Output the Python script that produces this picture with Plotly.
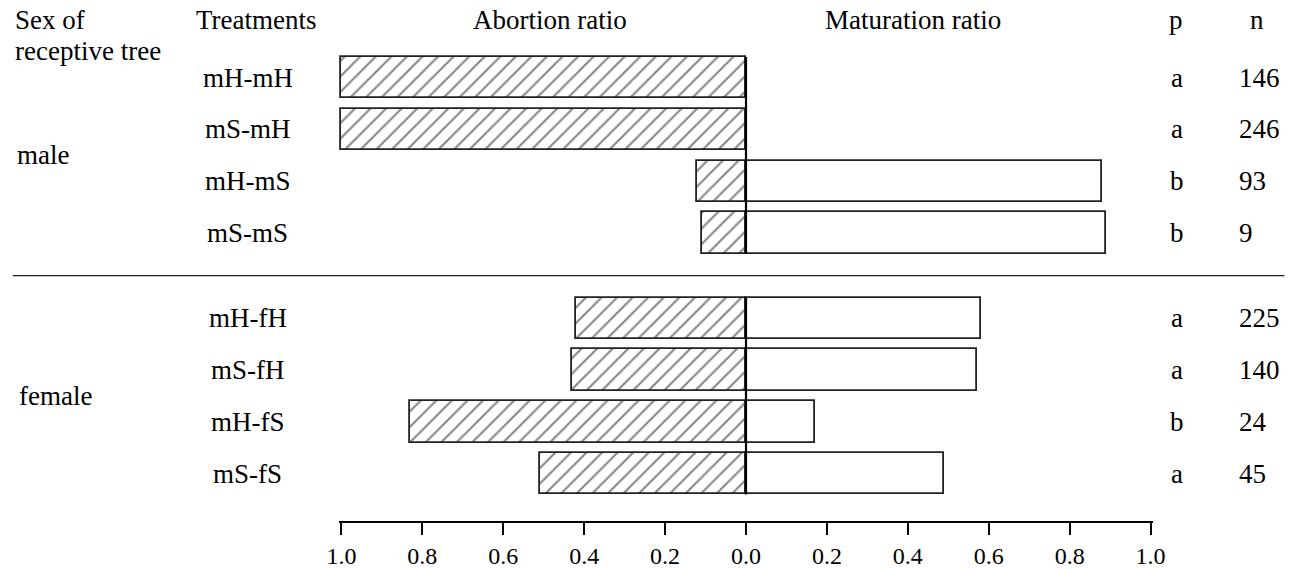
import plotly.graph_objects as go

# Fruit fate after cross-pollination, by sex of the receptive tree
sexes = ["male", "female"]
treatments_male = ["mH-mH", "mS-mH", "mH-mS", "mS-mS"]
treatments_female = ["mH-fH", "mS-fH", "mH-fS", "mS-fS"]
abortion_male = [1.0, 1.0, 0.12, 0.11]
maturation_male = [0.0, 0.0, 0.88, 0.89]
abortion_female = [0.42, 0.43, 0.83, 0.51]
maturation_female = [0.58, 0.57, 0.17, 0.49]
p_male = ["a", "a", "b", "b"]
p_female = ["a", "a", "b", "a"]
n_male = [146, 246, 93, 9]
n_female = [225, 140, 24, 45]
tick_values = [-1.0, -0.8, -0.6, -0.4, -0.2, 0.0, 0.2, 0.4, 0.6, 0.8, 1.0]

FONT = "Liberation Serif"
W, H = 1297, 569
PX_PER_UNIT = 405
X_PAD = 0.006           # small room so outer bar outlines are not clipped
ML = 341 - X_PAD * PX_PER_UNIT
MR = 146 - X_PAD * PX_PER_UNIT
MT, MB = 0, 39
ROW_PX = 52.67          # vertical distance between rows
GROUP_GAP = 1.65        # distance between last male row and first female row
BAR_W = 0.8

# row positions (in row units), male group on top
pos_male = [float(i) for i in range(len(treatments_male))]
pos_female = [pos_male[-1] + GROUP_GAP + i for i in range(len(treatments_female))]

treatments = treatments_male + treatments_female
abortion = abortion_male + abortion_female
maturation = maturation_male + maturation_female
p_vals = p_male + p_female
n_vals = n_male + n_female
ypos = pos_male + pos_female

plot_h = H - MT - MB
y_top = -1.5
y_bottom = y_top + plot_h / ROW_PX


def px_to_y(py):
    return y_top + (py - MT) / ROW_PX


def px_to_paper_x(px):
    return (px - ML) / (W - ML - MR)


fig = go.Figure()

fig.add_trace(go.Bar(
    y=ypos, x=[-a for a in abortion], orientation="h", width=BAR_W,
    marker=dict(
        color="white",
        line=dict(color="#222222", width=1.8),
        pattern=dict(shape="/", size=11, solidity=0.2,
                     fgcolor="#111111", bgcolor="white"),
    ),
    name="Abortion ratio", showlegend=False,
))
fig.add_trace(go.Bar(
    y=ypos, x=maturation, orientation="h", width=BAR_W,
    marker=dict(color="white", line=dict(color="#222222", width=1.8)),
    name="Maturation ratio", showlegend=False,
))

shapes = []
# zero line drawn per group
for grp in (pos_male, pos_female):
    shapes.append(dict(type="line", xref="x", yref="y", x0=0, x1=0,
                       y0=grp[0] - BAR_W / 2, y1=grp[-1] + BAR_W / 2,
                       line=dict(color="black", width=2.2)))
# separator between the sexes
sep_y = (pos_male[-1] + BAR_W / 2 + pos_female[0] - BAR_W / 2) / 2
shapes.append(dict(type="line", xref="paper", yref="y",
                   x0=px_to_paper_x(12), x1=px_to_paper_x(1285),
                   y0=sep_y, y1=sep_y, line=dict(color="#222222", width=1.2)))

ann = []
fs = 27


def text(x_px, y, s, anchor="center"):
    ann.append(dict(x=px_to_paper_x(x_px), y=y, xref="paper", yref="y",
                    text=s, showarrow=False, xanchor=anchor, yanchor="middle",
                    font=dict(family=FONT, size=fs, color="black")))


# headers
text(12, px_to_y(20), "Sex of", "left")
text(12, px_to_y(52), "receptive tree", "left")
text(256, px_to_y(20), "Treatments")
text(550, px_to_y(20), "Abortion ratio")
text(913, px_to_y(20), "Maturation ratio")
text(1176, px_to_y(20), "p")
text(1258, px_to_y(20), "n")

# group labels
text(14, (pos_male[1] + pos_male[2]) / 2, sexes[0], "left")
text(16, (pos_female[1] + pos_female[2]) / 2, sexes[1], "left")

# row labels
for t, y, pv, nv in zip(treatments, ypos, p_vals, n_vals):
    text(247, y, t)
    text(1177, y, pv)
    text(1238, y, str(nv), "left")

fig.update_layout(
    width=W, height=H,
    margin=dict(l=ML, r=MR, t=MT, b=MB, pad=0),
    paper_bgcolor="white", plot_bgcolor="white",
    barmode="overlay", bargap=0,
    shapes=shapes, annotations=ann,
    font=dict(family=FONT, color="black"),
    xaxis=dict(
        range=[-1 - X_PAD, 1 + X_PAD], tickvals=tick_values,
        ticktext=[f"{abs(v):.1f}" for v in tick_values],
        showline=True, linecolor="black", linewidth=2,
        ticks="outside", ticklen=12, tickwidth=2, tickcolor="black",
        showgrid=False, zeroline=False,
        tickfont=dict(family=FONT, size=24, color="black"),
    ),
    yaxis=dict(range=[y_bottom, y_top], visible=False,
               showgrid=False, zeroline=False),
)

fig.write_html("out.html")
